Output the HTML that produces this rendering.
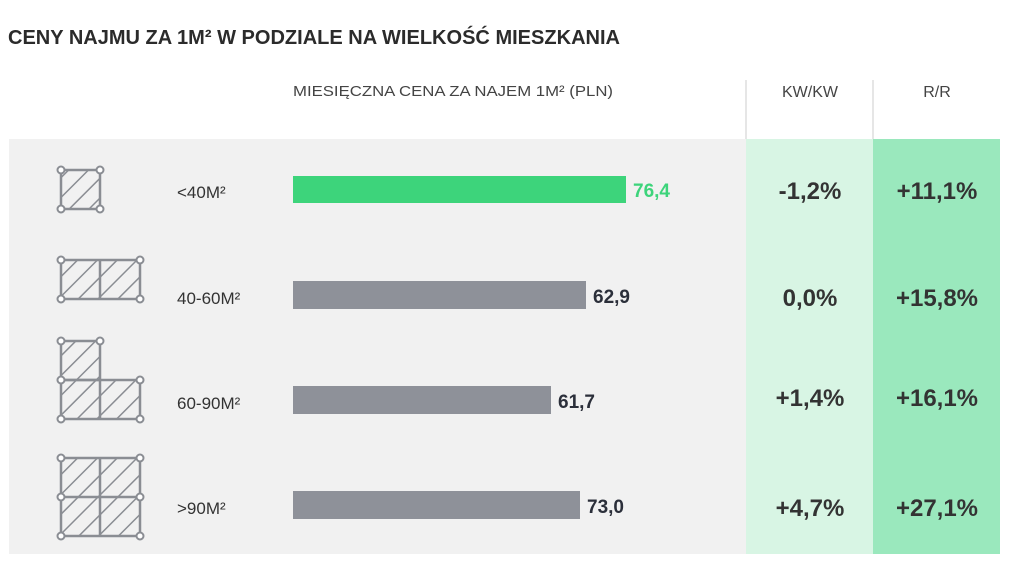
<!DOCTYPE html>
<html><head><meta charset="utf-8"><style>html,body{margin:0;padding:0;background:#fff}svg{display:block}</style></head>
<body>
<svg width="1024" height="568" viewBox="0 0 1024 568" xmlns="http://www.w3.org/2000/svg" font-family="Liberation Sans, DejaVu Sans, sans-serif">
<rect width="1024" height="568" fill="#fff"/>
<text x="8" y="44" font-size="20" font-weight="bold" fill="#2b2b2b" textLength="612" lengthAdjust="spacingAndGlyphs">CENY NAJMU ZA 1M² W PODZIALE NA WIELKOŚĆ MIESZKANIA</text>
<text x="293" y="96" font-size="15" fill="#444" textLength="320" lengthAdjust="spacingAndGlyphs">MIESIĘCZNA CENA ZA NAJEM 1M² (PLN)</text>
<text x="810" y="97" font-size="16" fill="#444" text-anchor="middle">KW/KW</text>
<text x="937" y="97" font-size="16" fill="#444" text-anchor="middle">R/R</text>
<line x1="746" y1="80" x2="746" y2="139" stroke="#ccc"/>
<line x1="873" y1="80" x2="873" y2="139" stroke="#ccc"/>
<rect x="9" y="139" width="737" height="415" fill="#f1f1f1"/>
<rect x="746" y="139" width="127" height="415" fill="#d8f5e4"/>
<rect x="873" y="139" width="127" height="415" fill="#9ae8bd"/>
<defs>
<pattern id="h" width="14" height="14" patternUnits="userSpaceOnUse" patternTransform="rotate(45)">
<line x1="0" y1="0" x2="0" y2="14" stroke="#8a8d93" stroke-width="3"/>
</pattern>
</defs>
<g stroke="#8a8d93" stroke-width="2.5" fill="url(#h)">
<rect x="61" y="170" width="39" height="39"/>
<rect x="61" y="260" width="79" height="39"/><line x1="100" y1="260" x2="100" y2="299"/>
<rect x="61" y="341" width="39" height="39"/><rect x="61" y="380" width="79" height="39"/><line x1="100" y1="380" x2="100" y2="419"/>
<rect x="61" y="458" width="79" height="78"/><line x1="100" y1="458" x2="100" y2="536"/><line x1="61" y1="497" x2="140" y2="497"/>
</g>
<g stroke="#8a8d93" stroke-width="2" fill="#fff">
<circle cx="61" cy="170" r="3.5"/><circle cx="100" cy="170" r="3.5"/><circle cx="61" cy="209" r="3.5"/><circle cx="100" cy="209" r="3.5"/>
<circle cx="61" cy="260" r="3.5"/><circle cx="140" cy="260" r="3.5"/><circle cx="61" cy="299" r="3.5"/><circle cx="140" cy="299" r="3.5"/>
<circle cx="61" cy="341" r="3.5"/><circle cx="100" cy="341" r="3.5"/><circle cx="61" cy="380" r="3.5"/><circle cx="140" cy="380" r="3.5"/><circle cx="61" cy="419" r="3.5"/><circle cx="140" cy="419" r="3.5"/>
<circle cx="61" cy="458" r="3.5"/><circle cx="140" cy="458" r="3.5"/><circle cx="61" cy="497" r="3.5"/><circle cx="140" cy="497" r="3.5"/><circle cx="61" cy="536" r="3.5"/><circle cx="140" cy="536" r="3.5"/>
</g>
<g font-size="17" fill="#333">
<text x="177" y="198">&lt;40M²</text>
<text x="177" y="304">40-60M²</text>
<text x="177" y="409">60-90M²</text>
<text x="177" y="514">&gt;90M²</text>
</g>
<rect x="293" y="176" width="333" height="27" fill="#3dd47b"/>
<rect x="293" y="281" width="293" height="28" fill="#8e9199"/>
<rect x="293" y="386" width="258" height="28" fill="#8e9199"/>
<rect x="293" y="491" width="287" height="28" fill="#8e9199"/>
<g font-size="19" font-weight="bold">
<text x="633" y="197" fill="#3dd47b">76,4</text>
<text x="593" y="303" fill="#2b2f3a">62,9</text>
<text x="558" y="408" fill="#2b2f3a">61,7</text>
<text x="587" y="513" fill="#2b2f3a">73,0</text>
</g>
<g font-size="24" font-weight="bold" fill="#333" text-anchor="middle">
<text x="810" y="199">-1,2%</text><text x="937" y="199">+11,1%</text>
<text x="810" y="306">0,0%</text><text x="937" y="306">+15,8%</text>
<text x="810" y="406">+1,4%</text><text x="937" y="406">+16,1%</text>
<text x="810" y="516">+4,7%</text><text x="937" y="516">+27,1%</text>
</g>
</svg>
</body></html>
